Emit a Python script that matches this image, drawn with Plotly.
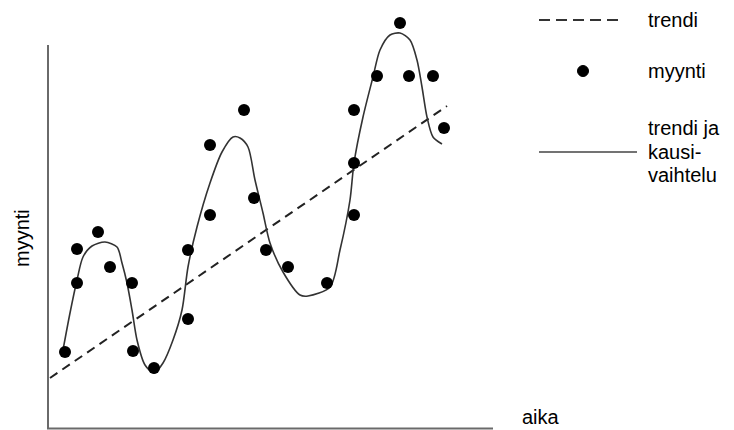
import plotly.graph_objects as go

# Sales observations (aika, myynti)
sales_t = [1.7, 2.9, 2.9, 5.0, 6.2, 8.4, 8.5, 10.6, 14.0, 14.0, 16.2, 16.2, 19.6,
           20.6, 21.8, 24.0, 27.9, 30.6, 30.6, 30.6, 32.9, 35.2, 36.1, 38.5, 39.6]
sales_y = [7.7, 14.6, 18.0, 19.7, 16.2, 14.6, 7.8, 6.1, 11.0, 17.9, 21.4, 28.4, 31.9,
           23.1, 17.9, 16.2, 14.6, 21.4, 26.6, 31.9, 35.3, 40.6, 35.3, 35.3, 30.1]

# Trend line endpoints
trend_t = [0.2, 39.9]
trend_y = [5.1, 32.3]

# Trend + seasonal variation curve (traced points)
season_t = [1.5, 2.2, 2.9, 3.5, 4.4, 5.7, 6.9, 7.4, 7.9, 8.4, 8.9, 9.7, 10.6, 11.5,
            12.5, 13.4, 14.0, 14.9, 16.2, 17.4, 18.5, 19.2, 20.0, 20.7, 21.5, 22.2,
            23.5, 25.2, 26.0, 28.2, 29.2, 30.2, 30.6, 31.5, 32.5, 33.2, 34.2, 35.2,
            36.2, 36.9, 37.4, 37.9, 38.5, 39.4]
season_y = [7.9, 11.6, 14.9, 17.2, 18.3, 18.7, 18.2, 16.6, 14.6, 11.9, 8.9, 6.4, 5.6, 6.6,
            8.9, 11.9, 16.2, 20.2, 24.6, 27.7, 29.2, 29.1, 28.2, 24.9, 21.6, 18.6,
            15.7, 13.4, 13.3, 14.2, 17.9, 22.9, 26.6, 31.2, 35.2, 37.9, 39.4, 39.6,
            38.9, 36.9, 34.2, 31.2, 29.2, 28.5]

legend_labels = ["trendi", "myynti", "trendi ja", "kausi-", "vaihtelu"]
x_label = "aika"
y_label = "myynti"

W, H = 734, 430
L, R, T, B = 48, 241, 0, 1
PW, PH = W - L - R, H - T - B


def px(x):
    return (x - L) / PW


def py(y):
    return (H - B - y) / PH


FONT = "Liberation Sans, Arial, sans-serif"

fig = go.Figure()
fig.add_trace(go.Scatter(x=trend_t, y=trend_y, mode="lines",
                         line=dict(color="#222", width=2, dash="9px,6px"),
                         showlegend=False, hoverinfo="skip"))
fig.add_trace(go.Scatter(x=season_t, y=season_y, mode="lines",
                         line=dict(color="#333", width=1.6, shape="spline", smoothing=0.8),
                         showlegend=False, hoverinfo="skip"))
fig.add_trace(go.Scatter(x=sales_t, y=sales_y, mode="markers",
                         marker=dict(color="black", size=12, symbol="circle"),
                         cliponaxis=False, showlegend=False))

shapes = [
    # axis lines
    dict(type="line", xref="paper", yref="paper", x0=px(48), x1=px(48), y0=py(45), y1=py(429),
         line=dict(color="#6a6a6a", width=2)),
    dict(type="line", xref="paper", yref="paper", x0=px(47), x1=px(493), y0=py(428.5), y1=py(428.5),
         line=dict(color="#6a6a6a", width=2)),
    # legend symbols
    dict(type="line", xref="paper", yref="paper", x0=px(539), x1=px(622), y0=py(20), y1=py(20),
         line=dict(color="#333", width=2, dash="11px,6px")),
    dict(type="circle", xref="paper", yref="paper", x0=px(577.5), x1=px(588.5), y0=py(65.5), y1=py(76.5),
         fillcolor="black", line=dict(color="black", width=1)),
    dict(type="line", xref="paper", yref="paper", x0=px(539), x1=px(637), y0=py(152), y1=py(152),
         line=dict(color="#444", width=1.5)),
]

ann = []
for text, y in zip(legend_labels, [20, 71, 128, 152, 175]):
    ann.append(dict(text=text, xref="paper", yref="paper", x=px(646), y=py(y),
                    xanchor="left", yanchor="middle", showarrow=False,
                    font=dict(family=FONT, size=20, color="black")))
ann.append(dict(text=x_label, xref="paper", yref="paper", x=px(520), y=py(417),
                xanchor="left", yanchor="middle", showarrow=False,
                font=dict(family=FONT, size=20, color="black")))
ann.append(dict(text=y_label, xref="paper", yref="paper", x=px(22), y=py(238),
                xanchor="center", yanchor="middle", showarrow=False, textangle=-90,
                font=dict(family=FONT, size=20, color="black")))

fig.update_layout(
    width=W, height=H,
    margin=dict(l=L, r=R, t=T, b=B),
    paper_bgcolor="white", plot_bgcolor="white",
    xaxis=dict(range=[0, PW / 10], visible=False, fixedrange=True),
    yaxis=dict(range=[0, PH / 10], visible=False, fixedrange=True),
    shapes=shapes, annotations=ann, showlegend=False,
)

fig.write_html(
    "out.html",
    config={"displayModeBar": False},
    post_script="document.body.style.margin='0';document.body.style.padding='0';"
                "document.body.style.overflow='hidden';",
)
